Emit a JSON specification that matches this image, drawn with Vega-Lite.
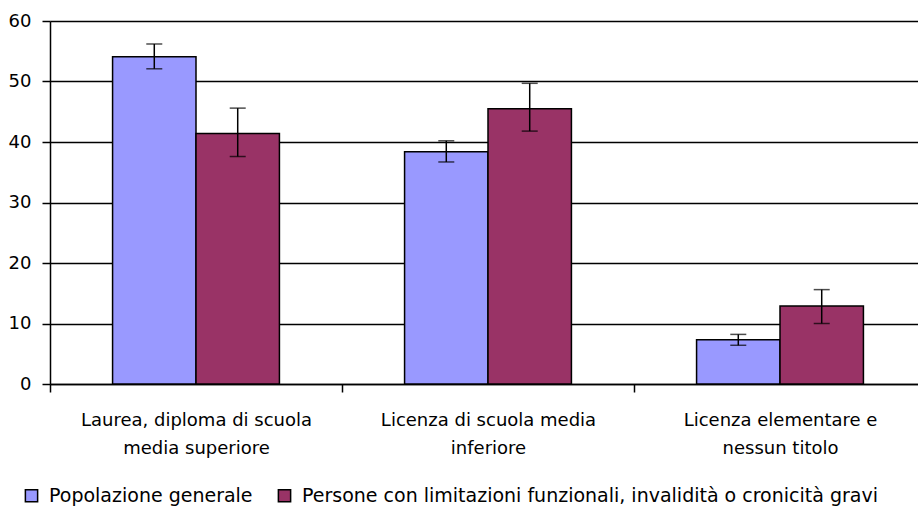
{
  "$schema": "https://vega.github.io/schema/vega-lite/v6.json",
  "width": 876,
  "height": 363,
  "autosize": {"type": "none"},
  "padding": {"left": 50, "top": 21, "right": 0, "bottom": 123},
  "background": "white",
  "config": {
    "view": {"stroke": null},
    "font": "DejaVu Sans"
  },
  "data": {
    "values": [
      {"cat": "Laurea, diploma di scuola|media superiore", "serie": "Popolazione generale", "value": 54.1, "low": 52.1, "high": 56.2},
      {"cat": "Laurea, diploma di scuola|media superiore", "serie": "Persone con limitazioni funzionali, invalidità o cronicità gravi", "value": 41.4, "low": 37.6, "high": 45.6},
      {"cat": "Licenza di scuola media|inferiore", "serie": "Popolazione generale", "value": 38.4, "low": 36.7, "high": 40.2},
      {"cat": "Licenza di scuola media|inferiore", "serie": "Persone con limitazioni funzionali, invalidità o cronicità gravi", "value": 45.5, "low": 41.8, "high": 49.7},
      {"cat": "Licenza elementare e|nessun titolo", "serie": "Popolazione generale", "value": 7.3, "low": 6.4, "high": 8.2},
      {"cat": "Licenza elementare e|nessun titolo", "serie": "Persone con limitazioni funzionali, invalidità o cronicità gravi", "value": 12.9, "low": 10.0, "high": 15.6}
    ]
  },
  "encoding": {
    "x": {
      "field": "cat", "type": "nominal", "sort": null,
      "scale": {"paddingInner": 0, "paddingOuter": 0},
      "axis": {
        "title": null, "labelAngle": 0, "labelExpr": "split(datum.label, '|')",
        "labelFontSize": 18, "labelColor": "black", "labelPadding": 19, "labelLineHeight": 28, "labelLimit": 400,
        "tickBand": "extent", "tickSize": 8, "tickColor": "black", "domainColor": "black", "domainWidth": 1.5, "tickWidth": 1.5,
        "labelBaseline": "top"
      }
    },
    "xOffset": {"field": "serie", "type": "nominal", "sort": ["Popolazione generale", "Persone con limitazioni funzionali, invalidità o cronicità gravi"], "scale": {"paddingInner": 0, "paddingOuter": 0.75}}
  },
  "layer": [
    {
      "mark": {"type": "bar", "stroke": "black", "strokeWidth": 1.5},
      "encoding": {
        "y": {
          "field": "value", "type": "quantitative",
          "scale": {"domain": [0, 60], "nice": false},
          "axis": {
            "title": null, "values": [0, 10, 20, 30, 40, 50, 60], "grid": true, "gridColor": "black", "gridWidth": 1.5, "gridOpacity": 1,
            "labelFontSize": 18, "labelColor": "black", "labelPadding": 11, "tickSize": 8, "tickColor": "black", "tickWidth": 1.5,
            "domainColor": "black", "domainWidth": 1.5
          }
        },
        "color": {
          "field": "serie", "type": "nominal",
          "sort": ["Popolazione generale", "Persone con limitazioni funzionali, invalidità o cronicità gravi"],
          "scale": {"range": ["#9999FF", "#993366"]},
          "legend": {
            "title": null, "orient": "none", "direction": "horizontal", "legendX": -28, "legendY": 465,
            "symbolType": "square", "symbolSize": 150, "symbolStrokeColor": "black", "symbolStrokeWidth": 1.5,
            "labelFontSize": 19, "labelColor": "black", "columnPadding": 22, "labelOffset": 8, "labelLimit": 800
          }
        }
      }
    },
    {
      "mark": {"type": "rule", "color": "black", "strokeWidth": 1.5},
      "encoding": {
        "y": {"field": "low", "type": "quantitative"},
        "y2": {"field": "high"}
      }
    },
    {
      "mark": {"type": "tick", "color": "black", "thickness": 1.5, "size": 16},
      "encoding": {"y": {"field": "low", "type": "quantitative"}}
    },
    {
      "mark": {"type": "tick", "color": "black", "thickness": 1.5, "size": 16},
      "encoding": {"y": {"field": "high", "type": "quantitative"}}
    }
  ]
}
